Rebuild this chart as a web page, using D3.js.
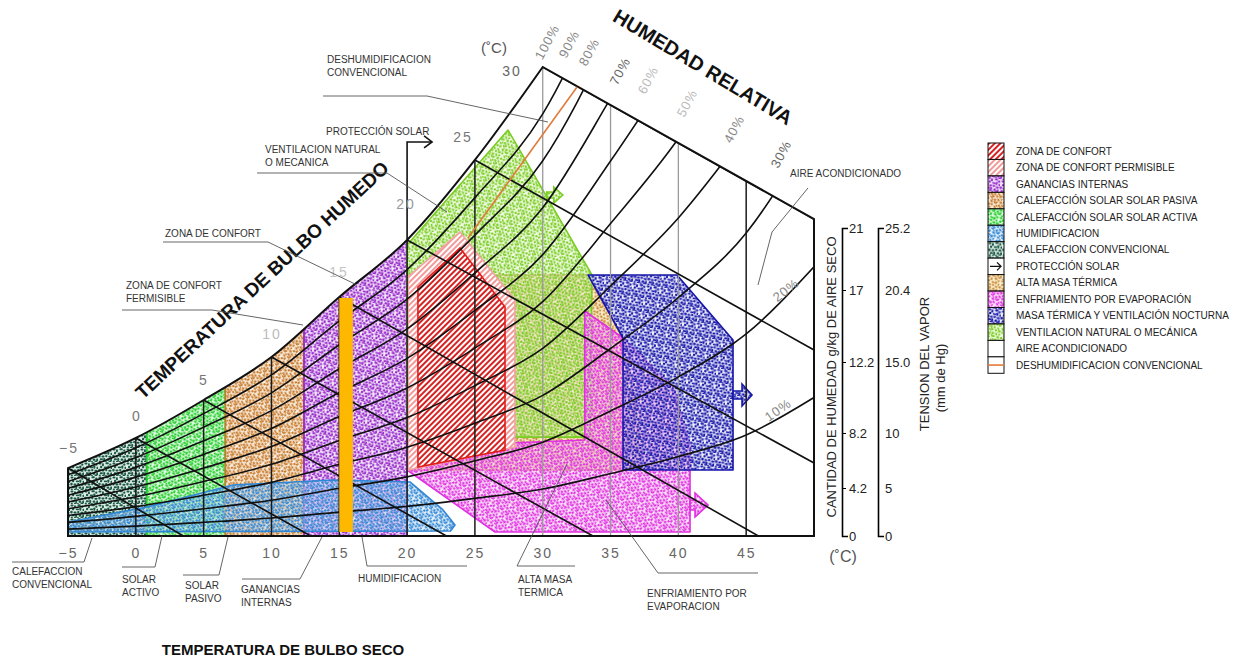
<!DOCTYPE html>
<html>
<head>
<meta charset="utf-8">
<script src="https://cdn.jsdelivr.net/npm/d3@7"></script>
<style>
  body { margin: 0; background: #fff; }
  svg { font-family: "Liberation Sans", Arial, sans-serif; }
</style>
</head>
<body>
<svg id="drawing_region"></svg>
<script>
// ---- values (dry bulb degC, moisture g/kg) ----
const dryBulbTicks = [-5, 0, 5, 10, 15, 20, 25, 30, 35, 40, 45];
const humidityTicks = [0, 4.2, 8.2, 12.2, 17, 21];
const vaporTicks = [0, 5, 10, 15, 20.4, 25.2];
const vaporTickLabels = ["0", "5", "10", "15.0", "20.4", "25.2"];

// 100% curve
const saturation = [[-5, 5.65], [0, 7.84], [5, 10.06], [10, 12.53], [15, 16.53], [20, 20.23], [25, 25.39], [30, 31.39]];

// relative humidity curves, sampled at rhTemps
const rhTemps = [-5, 0, 5, 10, 15, 20, 25, 30, 35, 40, 45, 50];
const rhCurves = [
  { rh: 90, w: [5.16, 7.12, 9.29, 11.47, 14.94, 18.32, 22.96, 28.36, 37.4] },
  { rh: 80, w: [4.67, 6.41, 8.53, 10.46, 13.35, 16.39, 20.54, 25.34, 33.4] },
  { rh: 70, w: [4.17, 5.70, 7.63, 9.46, 11.82, 14.41, 18.11, 22.31, 29.36, 37.0] },
  { rh: 60, w: [3.57, 4.99, 6.64, 8.45, 10.48, 12.44, 15.64, 19.28, 25.32, 31.9] },
  { rh: 50, w: [2.98, 4.27, 5.65, 7.22, 9.13, 10.74, 13.13, 16.23, 21.29, 26.77, 33.7] },
  { rh: 40, w: [2.38, 3.43, 4.67, 5.92, 7.66, 9.07, 10.87, 13.11, 17.26, 21.65, 27.19] },
  { rh: 30, w: [1.79, 2.57, 3.57, 4.61, 5.92, 7.17, 8.75, 10.32, 13.10, 16.50, 20.68, 27.45] },
  { rh: 20, w: [1.19, 1.72, 2.38, 3.13, 4.18, 5.01, 6.18, 7.53, 9.44, 11.36, 14.07, 18.5] },
  { rh: 10, w: [0.60, 0.86, 1.19, 1.57, 2.09, 2.59, 3.29, 4.11, 5.25, 6.49, 8.05, 10.2] }
];

// wet bulb lines: start on the 100% curve, end on the bottom or right edge
const wetBulb = [
  { t: -5, from: [-5, 5.65], to: [3.5, 0] },
  { t: 0, from: [0, 7.84], to: [12.9, 0] },
  { t: 5, from: [5, 10.06], to: [22.9, 0] },
  { t: 10, from: [10, 12.53], to: [33.7, 0] },
  { t: 15, from: [15, 16.53], to: [45.9, 0] },
  { t: 20, from: [20, 20.23], to: [50, 6.02] },
  { t: 25, from: [25, 25.39], to: [50, 13.0] },
  { t: 30, from: [30, 31.39], to: [50, 21.58] }
];

// strategy zones
const zoneConvencional = [[-5, 0], [0.8, 0], [0.8, 14], [-5, 14]];
const zoneSolarActiva = [[0.8, 0], [6.6, 0], [6.6, 16], [0.8, 16]];
const zoneSolarPasiva = [[6.6, 0], [12.4, 0], [12.4, 20], [6.6, 20]];
const zoneGanancias = [[12.4, 0], [20, 0], [20, 24], [12.4, 24]];
const zoneHumidificacion = [[-5, 0.35], [-5, 1.23], [0.82, 2.54], [7.16, 4.42], [14.54, 4.78], [20.21, 4.64], [22.65, 2.28], [23.53, 0.96], [23.2, 0.44]];
const zoneVentilacion = [[20, 8.06], [20, 19.9], [27.44, 27.32], [30.1, 23.32], [33.63, 17.97], [33.5, 7.9], [20, 7.9]];
const zoneMasaTermica = [[20.07, 17.97], [33.34, 17.97], [35.92, 13.8], [37.17, 8.37], [37.17, 5.51], [20.07, 5.51]];
const zoneEvaporacion = [[20.0, 5.51], [26.48, 0.35], [40.86, 0.35], [40.86, 7.18], [39.6, 10.79], [35.92, 13.8], [33.1, 15.6], [33.1, 7.69], [20.07, 7.18]];
const zoneNocturna = [[33.34, 17.97], [39.9, 17.97], [44.03, 13.67], [44.03, 5.51], [35.92, 5.51], [35.92, 13.8]];
const zonePermisible = [[20.07, 5.51], [20.07, 17.84], [23.9, 20.74], [27.95, 16.33], [27.95, 7.18]];
const zoneConfort = [[20.8, 5.73], [20.8, 17.19], [23.9, 19.71], [27.22, 15.87], [27.22, 6.96]];
const orangeBar = { t0: 15, t1: 16, w0: 0.35, w1: 16.47 };
const deshumLine = [[32.53, 30.1], [24.49, 20.35]];
const proteccionSolar = [[20, 20.23], [20, 26.55], [21.84, 26.55]];
const arrowEvap = [40.86, 2.71];
const arrowNoct = [44.03, 10.34];
const arrowVent = [30.3, 23.13];

// ---- scales ----
const svg = d3.select('#drawing_region').attr('width', 1260).attr('height', 657);
const xscale = d3.scaleLinear().domain([-5, 50]).range([68, 814]);
const yscale = d3.scaleLinear().domain(humidityTicks).range([536, 488, 433, 362, 290, 228]);
const vscale = d3.scaleLinear().domain(vaporTicks).range([536, 488, 433, 362, 290, 228]);

const line = d3.line().x(d => xscale(d[0])).y(d => yscale(d[1]));
const smooth = d3.line().x(d => xscale(d[0])).y(d => yscale(d[1])).curve(d3.curveMonotoneX);
const closed = d3.line().x(d => xscale(d[0])).y(d => yscale(d[1])).curve(d3.curveLinearClosed);

const topCorner = wetBulb[wetBulb.length - 1].to;
const outlineD = smooth(saturation)
  + `L${xscale(topCorner[0])},${yscale(topCorner[1])}`
  + `L${xscale(50)},${yscale(0)}L${xscale(-5)},${yscale(0)}Z`;

// ---- textures ----
const defs = svg.append('defs');
defs.append('clipPath').attr('id', 'chartClip').append('path').attr('d', outlineD);

const blobs = [[0.5, 0.5, 2.2, 1.4], [4, 1.2, 1.4, 2.2], [7.5, 0.3, 2.4, 1.5], [11.2, 1.5, 1.6, 1.6],
  [2, 3.8, 1.6, 1.8], [5.8, 4.5, 2.4, 1.3], [9.3, 3.6, 1.5, 2.3], [12.5, 4.8, 1.4, 1.7],
  [0.3, 6.8, 1.7, 2.0], [3.5, 7.4, 2.2, 1.5], [7.2, 7.0, 1.6, 1.6], [10.4, 7.8, 2.3, 1.4],
  [1.8, 10.2, 2.3, 1.5], [5.2, 10.0, 1.5, 2.2], [8.6, 10.6, 2.0, 1.6], [12.2, 10.4, 1.5, 2.0],
  [0.8, 12.6, 1.5, 1.2], [4.0, 12.8, 2.0, 1.1], [7.0, 13.0, 1.4, 0.9], [10.5, 12.6, 2.2, 1.2]];

const zoneStyle = {
  convencional: { color: '#1d5a45', tint: '#c4ddd2', angle: 0, k: 1.35 },
  activa: { color: '#22cc2a', tint: '#c8f5c8', angle: 30, k: 1.35 },
  pasiva: { color: '#c67a2c', tint: '#f7e2c8', angle: 60, k: 1.35 },
  ganancias: { color: '#9425c8', tint: '#ecd6f7', angle: 15, k: 1.35 },
  humid: { color: '#2f86d4', tint: '#d2e6f8', angle: 45, k: 1.35 },
  ventil: { color: '#78cc22', tint: '#e4f6c8', angle: 75, k: 1.3 },
  masa: { color: '#c8843a', tint: '#f2e29a', angle: 20, k: 1.25 },
  evap: { color: '#e030e0', tint: '#f8d2f6', angle: 50, k: 1.35 },
  noct: { color: '#1616a8', tint: '#e4e4fa', angle: 10, k: 1.4 }
};

Object.entries(zoneStyle).forEach(([key, s]) => {
  const p = defs.append('pattern').attr('id', 'st-' + key)
    .attr('patternUnits', 'userSpaceOnUse')
    .attr('width', 14).attr('height', 14)
    .attr('patternTransform', `rotate(${s.angle})`);
  p.append('rect').attr('width', 14).attr('height', 14)
    .attr('fill', s.tint).attr('fill-opacity', 0.55);
  p.selectAll('rect.b').data(blobs).join('rect').attr('class', 'b')
    .attr('x', d => d[0]).attr('y', d => d[1])
    .attr('width', d => d[2] * s.k).attr('height', d => d[3] * s.k)
    .attr('rx', 0.7).attr('fill', s.color);
});

function hatch(id, color) {
  const p = defs.append('pattern').attr('id', id)
    .attr('patternUnits', 'userSpaceOnUse')
    .attr('width', 4).attr('height', 4)
    .attr('patternTransform', 'rotate(-45)');
  p.append('rect').attr('width', 4).attr('height', 4).attr('fill', '#fff');
  p.append('rect').attr('width', 4).attr('height', 2).attr('fill', color);
}
hatch('hatch-confort', '#d52222');
hatch('hatch-perm', '#f29a9a');

// ---- zones ----
const zones = [
  { key: 'convencional', pts: zoneConvencional },
  { key: 'activa', pts: zoneSolarActiva },
  { key: 'pasiva', pts: zoneSolarPasiva },
  { key: 'ganancias', pts: zoneGanancias },
  { key: 'humid', pts: zoneHumidificacion },
  { key: 'masa', pts: zoneMasaTermica },
  { key: 'ventil', pts: zoneVentilacion },
  { key: 'evap', pts: zoneEvaporacion },
  { key: 'noct', pts: zoneNocturna }
];

const zoneGroup = svg.append('g').attr('clip-path', 'url(#chartClip)');
zoneGroup.selectAll('path.zone').data(zones).join('path').attr('class', 'zone')
  .attr('d', d => closed(d.pts))
  .attr('fill', d => `url(#st-${d.key})`)
  .attr('stroke', d => zoneStyle[d.key].color)
  .attr('stroke-width', 1.6)
  .attr('stroke-linejoin', 'round');

// block arrows out of zones
const arrows = [
  { key: 'evap', at: arrowEvap, d: 'M0,-5H5V-12L18,0L5,12V5H0Z' },
  { key: 'noct', at: arrowNoct, d: 'M0,-4H9V-11L19,0L9,11V4H0Z' },
  { key: 'ventil', at: arrowVent, d: 'M0,-3H7V-8L16,0L7,8V3H0Z' }
];
svg.append('g').selectAll('path').data(arrows).join('path')
  .attr('transform', d => `translate(${xscale(d.at[0])},${yscale(d.at[1])})`)
  .attr('d', d => d.d)
  .attr('fill', d => `url(#st-${d.key})`)
  .attr('stroke', d => zoneStyle[d.key].color)
  .attr('stroke-width', 1.6);

zoneGroup.append('path').attr('d', closed(zonePermisible))
  .attr('fill', 'url(#hatch-perm)').attr('stroke', '#f3a3a3').attr('stroke-width', 1.6);
zoneGroup.append('path').attr('d', closed(zoneConfort))
  .attr('fill', 'url(#hatch-confort)').attr('stroke', '#e01d1d').attr('stroke-width', 1.6);

// ---- grid ----
const grid = svg.append('g').attr('clip-path', 'url(#chartClip)').attr('fill', 'none');
grid.selectAll('line.db').data(dryBulbTicks.filter(t => t > -5)).join('line').attr('class', 'db')
  .attr('x1', d => xscale(d)).attr('x2', d => xscale(d))
  .attr('y1', yscale(0)).attr('y2', yscale(45))
  .attr('stroke', d => (d >= 30 && d <= 40) ? '#9a9a9a' : '#1a1a1a')
  .attr('stroke-width', d => (d >= 30 && d <= 40) ? 1.3 : 1.5);

grid.selectAll('path.rh').data(rhCurves).join('path').attr('class', 'rh')
  .attr('d', d => smooth(d.w.map((w, i) => [rhTemps[i], w])))
  .attr('stroke', '#111').attr('stroke-width', 1.6);

grid.selectAll('path.wb').data(wetBulb).join('path').attr('class', 'wb')
  .attr('d', d => line([d.from, d.to]))
  .attr('stroke', '#111').attr('stroke-width', 1.6);

svg.append('path').attr('d', outlineD)
  .attr('fill', 'none').attr('stroke', '#111').attr('stroke-width', 2);

// ---- overlays ----
svg.append('rect')
  .attr('x', xscale(orangeBar.t0)).attr('width', xscale(orangeBar.t1) - xscale(orangeBar.t0))
  .attr('y', yscale(orangeBar.w1)).attr('height', yscale(orangeBar.w0) - yscale(orangeBar.w1))
  .attr('fill', '#ffb800');

svg.append('path').attr('d', line(deshumLine))
  .attr('stroke', '#e07a3a').attr('stroke-width', 1.6).attr('fill', 'none');

svg.append('path').attr('d', line(proteccionSolar))
  .attr('stroke', '#111').attr('stroke-width', 1.6).attr('fill', 'none');
const ps = proteccionSolar[2];
svg.append('path')
  .attr('d', `M${xscale(ps[0]) - 8},${yscale(ps[1]) - 6}L${xscale(ps[0])},${yscale(ps[1])}L${xscale(ps[0]) - 8},${yscale(ps[1]) + 6}`)
  .attr('stroke', '#111').attr('stroke-width', 1.6).attr('fill', 'none');

// ---- axes ----
const xaxis = d3.axisBottom(xscale).tickValues(dryBulbTicks).tickSize(0).tickPadding(12)
  .tickFormat(d => d < 0 ? '\u2212' + (-d) : d);
svg.append('g').attr('transform', `translate(0,${yscale(0)})`).call(xaxis)
  .call(g => g.select('.domain').remove())
  .attr('font-family', '"Liberation Sans", Arial, sans-serif')
  .attr('font-size', 14)
  .call(g => g.selectAll('text').attr('fill', '#666').attr('letter-spacing', 2));

const haxis = d3.axisRight(yscale).tickValues(humidityTicks).tickSizeInner(4).tickSizeOuter(6).tickPadding(3)
  .tickFormat(d => d);
svg.append('g').attr('transform', 'translate(842,0)').call(haxis)
  .attr('font-family', '"Liberation Sans", Arial, sans-serif').attr('font-size', 13)
  .call(g => g.select('.domain').attr('stroke-width', 1.6))
  .call(g => g.selectAll('text').attr('fill', '#222'));

const vaxis = d3.axisRight(vscale).tickValues(vaporTicks).tickSizeInner(0).tickSizeOuter(6).tickPadding(7)
  .tickFormat((d, i) => vaporTickLabels[i]);
svg.append('g').attr('transform', 'translate(878,0)').call(vaxis)
  .attr('font-family', '"Liberation Sans", Arial, sans-serif').attr('font-size', 13)
  .call(g => g.select('.domain').attr('stroke-width', 1.6))
  .call(g => g.selectAll('text').attr('fill', '#222'));

svg.append('text').attr('transform', 'translate(836,377) rotate(-90)')
  .attr('text-anchor', 'middle').attr('font-size', 13).attr('fill', '#222')
  .text('CANTIDAD DE HUMEDAD g/kg DE AIRE SECO');
svg.append('text').attr('transform', 'translate(929,364) rotate(-90)')
  .attr('text-anchor', 'middle').attr('font-size', 13).attr('fill', '#222')
  .text('TENSION DEL VAPOR');
svg.append('text').attr('transform', 'translate(945,378) rotate(-90)')
  .attr('text-anchor', 'middle').attr('font-size', 13).attr('fill', '#222')
  .text('(mm de Hg)');
svg.append('text').attr('x', 843).attr('y', 562).attr('text-anchor', 'middle')
  .attr('font-size', 16).attr('fill', '#555').text('(\u02daC)');
svg.append('text').attr('x', 494).attr('y', 53).attr('text-anchor', 'middle')
  .attr('font-size', 15).attr('fill', '#555').text('(\u02daC)');

// wet bulb labels
const wbLabelLayout = {
  '-5': [69, 453, '#777'], '0': [137, 421, '#777'], '5': [204, 385, '#777'], '10': [272, 339, '#bbb'],
  '15': [339, 277, '#c4c4c4'], '20': [406, 209, '#999'], '25': [463, 142, '#777'], '30': [512, 76, '#666']
};
svg.append('g').selectAll('text').data(wetBulb).join('text')
  .attr('x', d => wbLabelLayout[d.t][0]).attr('y', d => wbLabelLayout[d.t][1])
  .attr('text-anchor', 'middle').attr('font-size', 14).attr('letter-spacing', 2)
  .attr('fill', d => wbLabelLayout[d.t][2])
  .text(d => d.t < 0 ? '\u2212' + (-d.t) : d.t);

// relative humidity labels
const rhLabelLayout = [
  [547, 42, -62, '#888'], [569, 44, -62, '#888'], [589, 52, -62, '#888'], [620, 71, -62, '#666'],
  [648, 80, -62, '#bbb'], [687, 103, -62, '#bbb'], [734, 129, -62, '#888'], [781, 154, -62, '#666'],
  [786, 290, -38, '#888'], [778, 410, -35, '#888']
];
const rhLabelText = ['100%'].concat(rhCurves.map(d => d.rh + '%'));
svg.append('g').selectAll('text').data(rhLabelText).join('text')
  .attr('transform', (d, i) => `translate(${rhLabelLayout[i][0]},${rhLabelLayout[i][1]}) rotate(${rhLabelLayout[i][2]})`)
  .attr('text-anchor', 'middle').attr('dy', '0.35em')
  .attr('font-size', 13).attr('letter-spacing', 1)
  .attr('fill', (d, i) => rhLabelLayout[i][3])
  .text(d => d);

// titles
svg.append('text').attr('transform', 'translate(703,67) rotate(31)')
  .attr('text-anchor', 'middle').attr('dy', '0.35em')
  .attr('font-size', 20).attr('font-weight', 'bold').attr('fill', '#111')
  .text('HUMEDAD RELATIVA');
svg.append('text').attr('transform', 'translate(262,280) rotate(-43)')
  .attr('text-anchor', 'middle').attr('dy', '0.35em')
  .attr('font-size', 19).attr('font-weight', 'bold').attr('fill', '#111')
  .text('TEMPERATURA DE BULBO HUMEDO');
svg.append('text').attr('x', 283).attr('y', 655)
  .attr('text-anchor', 'middle')
  .attr('font-size', 15).attr('font-weight', 'bold').attr('fill', '#111')
  .text('TEMPERATURA DE BULBO SECO');

// annotations with leader lines
const annotations = [
  { lines: ['DESHUMIDIFICACION', 'CONVENCIONAL'], x: 327, y: 63, leader: [[323, 96], [427, 96], [548, 122]] },
  { lines: ['PROTECCIÓN SOLAR'], x: 326, y: 135, leader: null },
  { lines: ['VENTILACION NATURAL', 'O MECANICA'], x: 265, y: 153, leader: [[257, 173], [387, 173], [447, 212]] },
  { lines: ['ZONA DE CONFORT'], x: 165, y: 237, leader: [[163, 242], [268, 242], [357, 285]] },
  { lines: ['ZONA DE CONFORT', 'FERMISIBLE'], x: 126, y: 289, leader: [[122, 310], [212, 310], [303, 325]] },
  { lines: ['AIRE ACONDICIONADO'], x: 790, y: 177, leader: [[808, 188], [772, 232], [758, 285]] },
  { lines: ['CALEFACCION', 'CONVENCIONAL'], x: 12, y: 575, leader: [[92, 538], [84, 562], [12, 562]] },
  { lines: ['SOLAR', 'ACTIVO'], x: 122, y: 583, leader: [[162, 536], [155, 567], [122, 567]] },
  { lines: ['SOLAR', 'PASIVO'], x: 185, y: 589, leader: [[228, 537], [219, 575], [183, 575]] },
  { lines: ['GANANCIAS', 'INTERNAS'], x: 241, y: 593, leader: [[322, 537], [300, 579], [242, 579]] },
  { lines: ['HUMIDIFICACION'], x: 358, y: 582, leader: [[362, 537], [367, 566], [467, 566]] },
  { lines: ['ALTA MASA', 'TERMICA'], x: 518, y: 583, leader: [[567, 464], [517, 566], [575, 566]] },
  { lines: ['ENFRIAMIENTO POR', 'EVAPORACION'], x: 647, y: 597, leader: [[606, 500], [658, 573], [758, 573]] }
];
const ann = svg.append('g');
ann.selectAll('path').data(annotations.filter(a => a.leader)).join('path')
  .attr('d', d => d3.line()(d.leader))
  .attr('fill', 'none').attr('stroke', '#555').attr('stroke-width', 0.9);
ann.selectAll('text').data(annotations).join('text')
  .attr('x', d => d.x).attr('y', d => d.y)
  .attr('font-size', 10).attr('fill', '#333')
  .selectAll('tspan').data(d => d.lines.map((t, i) => ({ t, i, x: d.x }))).join('tspan')
  .attr('x', d => d.x).attr('dy', d => d.i === 0 ? 0 : 13)
  .text(d => d.t);

// ---- legend ----
const legendItems = [
  { label: 'ZONA DE CONFORT', fill: 'url(#hatch-confort)' },
  { label: 'ZONA DE CONFORT PERMISIBLE', fill: 'url(#hatch-perm)' },
  { label: 'GANANCIAS INTERNAS', fill: 'url(#st-ganancias)' },
  { label: 'CALEFACCIÓN SOLAR SOLAR PASIVA', fill: 'url(#st-pasiva)' },
  { label: 'CALEFACCIÓN SOLAR SOLAR ACTIVA', fill: 'url(#st-activa)' },
  { label: 'HUMIDIFICACION', fill: 'url(#st-humid)' },
  { label: 'CALEFACCION CONVENCIONAL', fill: 'url(#st-convencional)' },
  { label: 'PROTECCIÓN SOLAR', fill: '#fff', mark: 'arrow' },
  { label: 'ALTA MASA TÉRMICA', fill: 'url(#st-masa)' },
  { label: 'ENFRIAMIENTO POR EVAPORACIÓN', fill: 'url(#st-evap)' },
  { label: 'MASA TÉRMICA Y VENTILACIÓN NOCTURNA', fill: 'url(#st-noct)' },
  { label: 'VENTILACION NATURAL O MECÁNICA', fill: 'url(#st-ventil)' },
  { label: 'AIRE ACONDICIONADO', fill: '#fff' },
  { label: 'DESHUMIDIFICACION CONVENCIONAL', fill: '#fff', mark: 'line' }
];
const lx = 988, ly = 143, lh = 16.45, lw = 16;
const legend = svg.append('g');
const li = legend.selectAll('g').data(legendItems).join('g')
  .attr('transform', (d, i) => `translate(${lx},${ly + i * lh})`);
li.append('rect').attr('width', lw).attr('height', lh)
  .attr('fill', d => d.fill).attr('stroke', '#111').attr('stroke-width', 1);
li.filter(d => d.mark === 'arrow').append('path')
  .attr('d', `M2,${lh / 2}H13M9,${lh / 2 - 4}L13,${lh / 2}L9,${lh / 2 + 4}`)
  .attr('stroke', '#111').attr('stroke-width', 1.3).attr('fill', 'none');
li.filter(d => d.mark === 'line').append('line')
  .attr('x1', 0).attr('x2', lw).attr('y1', lh / 2).attr('y2', lh / 2)
  .attr('stroke', '#e07a3a').attr('stroke-width', 1.6);
li.append('text').attr('x', 28).attr('y', lh / 2).attr('dy', '0.35em')
  .attr('font-size', 10).attr('fill', '#222')
  .text(d => d.label);
</script>
</body>
</html>
